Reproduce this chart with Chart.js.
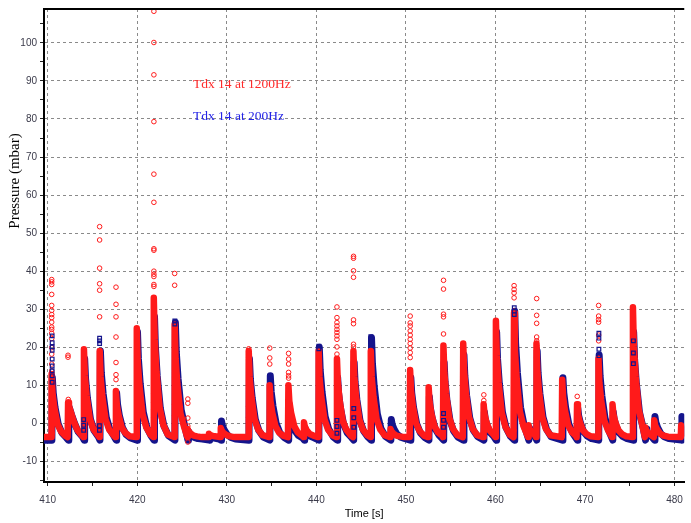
<!DOCTYPE html>
<html>
<head>
<meta charset="utf-8">
<title>Pressure</title>
<script src="https://cdn.jsdelivr.net/npm/chart.js@4.4.1/dist/chart.umd.min.js"></script>
<style>
  body { margin: 0; background: #fff; }
  canvas { display: block; }
</style>
</head>
<body>
<canvas id="pressure" width="691" height="523"></canvas>
<script>
const xMin = 409.59;
const xMax = 481.08;
const yMin = -15.4;
const yMax = 108.9;

// rise times of each pulse [s]
const pulseStart = [410.39, 412.23, 414.0, 415.76, 417.57, 419.9, 421.8, 424.13, 425.59, 427.96,
  429.28, 432.4, 434.73, 436.83, 438.57, 440.2, 442.25, 444.09, 446.03, 448.24,
  450.42, 452.49, 454.14, 456.35, 458.63, 460.0, 462.02, 463.65, 464.53, 467.4,
  469.06, 471.45, 473.02, 475.3, 476.68, 477.68, 480.69];

// seconds after the rise where the decay values below were read
const decayAt = [0.15, 0.35, 0.7, 1.1, 1.6];

const redBase = -3.6;
const redPeak = [13, 5.5, 19.5, 19, 8.5, 25, 33, 26, -1.5, -2.7,
  -1.2, 19, 10, 10, 0.3, 19, 17, 19, 19, -1.5,
  14, 9.5, 20.5, 21, 5, 27, 29, -0.5, 21, 11.5,
  5, 17, 5, 30.5, -1, 0.8, -0.5];
const redDecay = [
  [8.0, 4.2, -0.1, -2.1, -3.3], [4.6, 3.0, 0.4, -1.8, -3.2], [12.6, 7.3, 1.3, -1.5, -3.1],
  [12.2, 7.0, 1.1, -1.6, -3.1], [4.9, 2.1, -1.1, -2.5, -3.4], [16.4, 9.8, 2.4, -1.0, -3.0],
  [22.0, 13.6, 4.1, -0.3, -2.9], [17.1, 10.3, 2.6, -0.9, -3.0], [-2.1, -2.6, -3.2, -3.4, -3.6],
  [-3.0, -3.2, -3.4, -3.5, -3.6], [-1.9, -2.5, -3.1, -3.4, -3.6], [12.2, 7.0, 1.1, -1.6, -3.1],
  [5.9, 2.8, -0.7, -2.4, -3.3], [5.9, 2.8, -0.7, -2.4, -3.3], [-0.9, -1.8, -2.8, -3.2, -3.5],
  [12.2, 7.0, 1.1, -1.6, -3.1], [10.8, 6.1, 0.7, -1.7, -3.2], [12.2, 7.0, 1.1, -1.6, -3.1],
  [12.2, 7.0, 1.1, -1.6, -3.1], [-2.1, -2.6, -3.2, -3.4, -3.6], [8.7, 4.7, 0.1, -2.0, -3.2],
  [5.6, 2.6, -0.8, -2.4, -3.3], [13.3, 7.7, 1.5, -1.4, -3.1], [13.6, 8.0, 1.6, -1.4, -3.1],
  [2.4, 0.4, -1.8, -2.8, -3.4], [17.8, 10.8, 2.8, -0.8, -3.0], [19.2, 11.7, 3.2, -0.7, -2.9],
  [-1.4, -2.1, -2.9, -3.3, -3.5], [13.6, 8.0, 1.6, -1.4, -3.1], [7.0, 3.5, -0.4, -2.2, -3.3],
  [2.4, 0.4, -1.8, -2.8, -3.4], [10.8, 6.1, 0.7, -1.7, -3.2], [2.4, 0.4, -1.8, -2.8, -3.4],
  [20.3, 12.4, 3.6, -0.5, -2.9], [-1.8, -2.4, -3.1, -3.4, -3.6], [-0.5, -1.5, -2.7, -3.2, -3.5],
  [-1.4, -2.1, -2.9, -3.3, -3.5]
];

const blueBase = -4.4;
const bluePeak = [12, 4.5, 17, 19, 8, 24, 28, 26.5, -2, -3.2,
  0.6, 17, 12.5, 5, -1, 20, 12, 16, 22.5, 1,
  12, 7, 16, 18, 3, 24, 29.5, -1, 19, 12,
  4, 18, 3, 24, -1.5, 1.8, 1.8];
const blueDecay = [
  [8.0, 4.2, -0.1, -2.4, -3.7], [3.8, 2.3, 0.0, -2.2, -3.6], [11.7, 6.8, 1.1, -1.9, -3.6],
  [13.2, 7.9, 1.6, -1.6, -3.5], [5.0, 2.1, -1.1, -2.9, -3.8], [17.0, 10.5, 2.9, -1.1, -3.4],
  [20.0, 12.5, 3.9, -0.7, -3.2], [18.8, 11.8, 3.5, -0.8, -3.3], [-2.6, -3.1, -3.7, -4.0, -4.1],
  [-3.4, -3.7, -3.9, -4.1, -4.2], [-0.6, -1.7, -3.0, -3.7, -4.1], [11.7, 6.8, 1.1, -1.9, -3.6],
  [8.3, 4.5, 0.0, -2.4, -3.7], [2.7, 0.6, -1.9, -3.2, -3.9], [-1.8, -2.5, -3.4, -3.8, -4.1],
  [14.0, 8.4, 1.8, -1.5, -3.5], [8.0, 4.2, -0.1, -2.4, -3.7], [11.0, 6.3, 0.8, -2.0, -3.6],
  [15.8, 9.7, 2.5, -1.3, -3.4], [-0.3, -1.5, -2.9, -3.6, -4.0], [8.0, 4.2, -0.1, -2.4, -3.7],
  [4.2, 1.6, -1.4, -3.0, -3.9], [11.0, 6.3, 0.8, -2.0, -3.6], [12.5, 7.3, 1.4, -1.8, -3.5],
  [1.2, -0.5, -2.4, -3.4, -4.0], [17.0, 10.5, 2.9, -1.1, -3.4], [21.1, 13.3, 4.2, -0.5, -3.2],
  [-1.8, -2.5, -3.4, -3.8, -4.1], [13.2, 7.9, 1.6, -1.6, -3.5], [8.0, 4.2, -0.1, -2.4, -3.7],
  [2.0, 0.1, -2.2, -3.3, -4.0], [12.5, 7.3, 1.4, -1.8, -3.5], [1.2, -0.5, -2.4, -3.4, -4.0],
  [17.0, 10.5, 2.9, -1.1, -3.4], [-2.2, -2.8, -3.5, -3.9, -4.1], [0.3, -1.1, -2.7, -3.5, -4.0],
  [0.3, -1.1, -2.7, -3.5, -4.0]
];

// isolated 1200Hz samples (circles) standing out of the trace: [time, pressure]
const redDots = [
  [410.45, 37.8], [410.45, 37.2], [410.45, 36.5], [410.45, 33.9], [410.45, 31.0], [410.45, 29.7],
  [410.45, 28.6], [410.45, 27.8], [410.45, 26.6], [410.45, 25.3], [410.45, 24.7], [410.45, 23.7],
  [410.45, 22.3], [410.45, 19.9], [410.45, 18.2], [410.45, 15.6], [410.45, 13.8], [410.47, 12.5],
  [410.5, 1.6], [410.5, -2.5],
  [412.27, 17.9], [412.27, 17.4], [412.3, 6.3], [412.3, 5.6],
  [415.8, 51.7], [415.8, 48.2], [415.8, 40.8], [415.8, 36.7], [415.8, 35.0], [415.8, 28.0],
  [417.63, 35.8], [417.63, 31.3], [417.63, 28.0], [417.63, 22.7], [417.63, 16.0], [417.63, 12.8], [417.63, 11.5],
  [421.86, 108.3], [421.86, 100.1], [421.86, 91.6], [421.86, 79.3], [421.86, 65.5], [421.86, 58.1],
  [421.86, 45.9], [421.86, 45.5], [421.86, 40.0], [421.86, 39.2], [421.86, 38.6], [421.86, 36.5],
  [421.86, 36.0], [421.84, 7.8], [421.84, 5.5], [421.84, 3.6], [421.84, 1.6], [421.84, -0.5],
  [424.18, 39.4], [424.18, 36.3], [424.16, 5.0], [424.16, 2.0],
  [425.65, 6.4], [425.65, 5.3], [425.65, 1.4], [425.65, -0.7], [425.65, -4.9],
  [432.45, 19.6], [432.45, 18.8], [432.45, 18.0], [432.45, 17.3], [432.43, 4.5], [432.43, 1.5],
  [434.8, 19.8], [434.8, 17.2], [434.8, 15.6],
  [436.9, 18.4], [436.9, 16.9], [436.9, 15.6], [436.9, 13.4], [436.9, 12.5], [436.9, 11.9],
  [442.3, 30.6], [442.3, 27.8], [442.3, 26.5], [442.3, 25.6], [442.3, 24.7], [442.3, 23.9],
  [442.3, 23.0], [442.3, 22.1], [442.3, 20.1], [442.3, 18.2], [442.3, 6.0], [442.3, 4.3],
  [444.15, 43.9], [444.15, 43.4], [444.15, 40.1], [444.15, 38.4], [444.15, 27.2], [444.15, 26.2],
  [444.15, 20.8], [444.15, 20.1],
  [450.48, 28.2], [450.48, 26.4], [450.48, 25.6], [450.48, 24.3], [450.48, 23.2], [450.48, 22.1],
  [450.48, 21.0], [450.48, 19.8], [450.48, 18.6], [450.48, 17.3],
  [454.2, 37.6], [454.2, 35.3], [454.2, 28.7], [454.2, 28.0], [454.2, 23.5],
  [458.7, 7.5], [458.7, 6.0], [458.7, 4.7], [458.7, 3.4],
  [462.08, 36.2], [462.08, 35.2], [462.08, 34.3], [462.08, 33.0], [462.08, 29.5], [462.08, 28.2],
  [462.08, 26.9], [462.06, 1.6], [462.06, -1.8],
  [464.6, 32.8], [464.6, 28.4], [464.6, 26.3], [464.6, 22.7], [464.6, 21.7], [464.6, 20.4],
  [464.6, 19.1], [464.6, 17.3], [464.6, 15.6],
  [469.13, 7.1],
  [471.52, 31.0], [471.52, 28.2], [471.52, 27.3], [471.52, 26.6], [471.52, 23.2], [471.52, 21.7]
];

// isolated 200Hz samples (squares): [time, pressure]
const blueSquares = [
  [410.5, 23.0], [410.5, 21.2], [410.5, 20.1], [410.5, 19.2], [410.5, 16.9], [410.5, 15.1],
  [410.5, 13.8], [410.5, 12.5], [410.5, 10.8],
  [414.02, 1.0], [414.02, -0.5], [414.02, -1.8],
  [415.8, 22.4], [415.8, 21.7], [415.8, 21.0], [415.78, -0.6], [415.78, -1.8],
  [424.2, 26.9], [424.2, 26.1],
  [440.28, 20.3], [440.28, 19.6],
  [442.3, 0.8], [442.3, -0.8], [442.3, -2.6],
  [444.18, 3.9], [444.18, 1.5], [444.18, -1.0],
  [446.08, 22.8], [446.08, 21.7],
  [454.2, 2.6], [454.2, 0.8], [454.2, -1.0],
  [462.1, 30.4], [462.1, 29.5], [462.1, 28.6],
  [471.55, 23.7], [471.55, 22.4], [471.55, 19.5], [471.55, 17.8],
  [475.4, 21.7], [475.4, 18.5], [475.4, 15.7]
];

function buildTrace(peaks, decays, base, lag) {
  const pts = [{ x: xMin - 0.2, y: base }];
  pulseStart.forEach((t0, i) => {
    const next = i + 1 < pulseStart.length ? pulseStart[i + 1] : Infinity;
    pts.push({ x: t0 + lag, y: base });
    pts.push({ x: t0 + lag + 0.05, y: peaks[i] });
    decays[i].forEach((v, k) => {
      const t = t0 + lag + decayAt[k];
      if (t < next - 0.03) pts.push({ x: t, y: v });
    });
  });
  pts.push({ x: xMax + 0.3, y: base });
  return pts;
}

function toPoints(list) {
  return list.map(p => ({ x: p[0], y: p[1] }));
}

function isTen(v) {
  return Math.abs(v / 10 - Math.round(v / 10)) < 1e-6;
}

const frameAndText = {
  id: 'frameAndText',
  afterDraw(chart) {
    const { ctx, chartArea } = chart;
    ctx.save();
    ctx.strokeStyle = '#000';
    ctx.lineWidth = 2;
    ctx.beginPath();
    ctx.moveTo(chartArea.left - 1, chartArea.top);
    ctx.lineTo(chartArea.right, chartArea.top);
    ctx.stroke();

    ctx.font = '13.5px "Liberation Serif", "Times New Roman", serif';
    ctx.textBaseline = 'alphabetic';
    ctx.fillStyle = '#ff2a2a';
    ctx.fillText('Tdx 14 at 1200Hz', 193, 88);
    ctx.fillStyle = '#2424e6';
    ctx.fillText('Tdx 14 at 200Hz', 193, 120);

    ctx.translate(15.5, 181);
    ctx.rotate(-Math.PI / 2);
    ctx.font = '15px "Liberation Serif", "Times New Roman", serif';
    ctx.fillStyle = '#000';
    ctx.textAlign = 'center';
    ctx.textBaseline = 'middle';
    ctx.fillText('Pressure (mbar)', 0, 0);
    ctx.restore();
  }
};

let chart1;

function drawChart() {
  const canvas = document.getElementById('pressure');
  chart1 = new Chart(canvas, {
    type: 'scatter',
    data: {
      datasets: [
        {
          label: 'Tdx 14 at 200Hz squares',
          data: toPoints(blueSquares),
          pointStyle: 'rect',
          pointRadius: 2.6,
          borderWidth: 1.2,
          borderColor: '#14148c',
          backgroundColor: 'rgba(255,255,255,0)',
          clip: false,
          order: 0
        },
        {
          label: 'Tdx 14 at 1200Hz circles',
          data: toPoints(redDots),
          pointStyle: 'circle',
          pointRadius: 2.3,
          borderWidth: 1,
          borderColor: '#ff1a1a',
          backgroundColor: 'rgba(255,255,255,0)',
          clip: false,
          order: 1
        },
        {
          label: 'Tdx 14 at 1200Hz',
          data: buildTrace(redPeak, redDecay, redBase, 0),
          showLine: true,
          pointRadius: 0,
          borderWidth: 6.5,
          borderColor: '#ff1a1a',
          borderJoinStyle: 'round',
          tension: 0,
          order: 2
        },
        {
          label: 'Tdx 14 at 200Hz',
          data: buildTrace(bluePeak, blueDecay, blueBase, 0.08),
          showLine: true,
          pointRadius: 0,
          borderWidth: 7,
          borderColor: '#14148c',
          borderJoinStyle: 'round',
          tension: 0,
          order: 3
        }
      ]
    },
    options: {
      responsive: false,
      animation: false,
      layout: { padding: { top: 6, right: 0, left: 0, bottom: 0 } },
      plugins: {
        legend: { display: false },
        tooltip: { enabled: false }
      },
      scales: {
        x: {
          type: 'linear',
          min: xMin,
          max: xMax,
          afterFit(scale) { scale.height = 41; },
          ticks: {
            stepSize: 5,
            includeBounds: false,
            maxRotation: 0,
            autoSkip: false,
            padding: 8,
            color: '#3a3a4a',
            font: { family: 'Arial, "Liberation Sans", sans-serif', size: 10 },
            callback: v => isTen(v) ? String(Math.round(v)) : ''
          },
          grid: {
            color: ctx => ctx.tick && isTen(ctx.tick.value) ? '#8a8a8a' : 'rgba(0,0,0,0)',
            tickColor: '#222',
            tickLength: 4,
            lineWidth: 1
          },
          border: { color: '#000', width: 2, dash: [3, 3] },
          title: {
            display: true,
            text: 'Time [s]',
            color: '#000',
            font: { family: 'Arial, "Liberation Sans", sans-serif', size: 11 },
            padding: { top: 0, bottom: 2 }
          }
        },
        y: {
          min: yMin,
          max: yMax,
          afterFit(scale) { scale.width = 44; },
          ticks: {
            stepSize: 5,
            includeBounds: false,
            padding: 3,
            color: '#3a3a4a',
            font: { family: 'Arial, "Liberation Sans", sans-serif', size: 10 },
            callback: v => isTen(v) ? String(Math.round(v)) : ''
          },
          grid: {
            color: ctx => ctx.tick && isTen(ctx.tick.value) ? '#8a8a8a' : 'rgba(0,0,0,0)',
            tickColor: '#222',
            tickLength: 4,
            lineWidth: 1
          },
          border: { color: '#000', width: 2, dash: [3, 3] }
        }
      }
    },
    plugins: [frameAndText]
  });
}

document.addEventListener('DOMContentLoaded', () => {
  drawChart();
});
</script>
</body>
</html>
